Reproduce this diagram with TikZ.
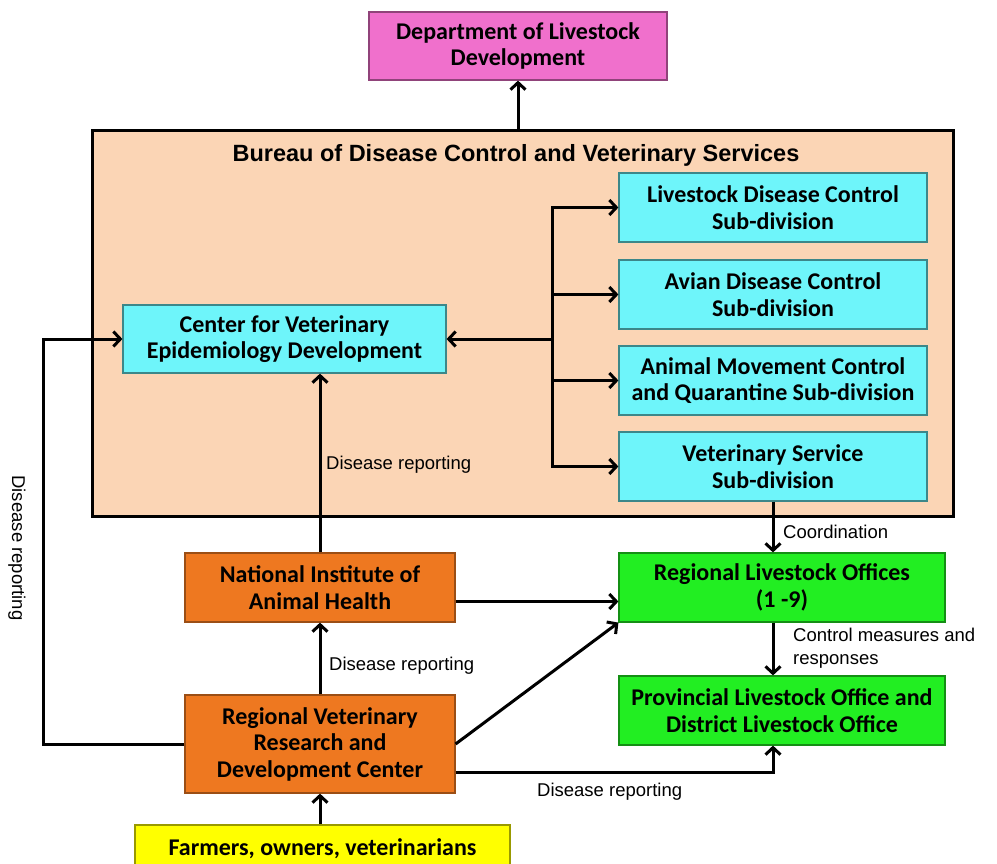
\documentclass[tikz,border=0pt]{standalone}
\usepackage{fontspec}
\setmainfont{Carlito}
\newfontfamily\labelfont{Liberation Sans}
\usetikzlibrary{arrows.meta,positioning}

\definecolor{DeptPink}{RGB}{240,112,204}
\definecolor{BureauPeach}{RGB}{251,213,181}
\definecolor{UnitCyan}{RGB}{110,245,250}
\definecolor{InstOrange}{RGB}{238,120,32}
\definecolor{OfficeGreen}{RGB}{34,238,34}
\definecolor{FarmYellow}{RGB}{255,255,0}

\begin{document}
\begin{tikzpicture}[x=1pt, y=-1pt]
		\tikzstyle{Box}		= [rectangle, line width=1.2pt, align=center, inner sep=2pt, font=\fontsize{24}{26.5}\selectfont\bfseries]
		\tikzstyle{Pink}	= [Box, fill=DeptPink, draw=DeptPink!60!black]
		\tikzstyle{Cyan}	= [Box, fill=UnitCyan, draw=UnitCyan!55!black]
		\tikzstyle{Orange}	= [Box, fill=InstOrange, draw=InstOrange!65!black]
		\tikzstyle{Green}	= [Box, fill=OfficeGreen, draw=OfficeGreen!60!black]
		\tikzstyle{Yellow}	= [Box, fill=FarmYellow, draw=FarmYellow!60!black]
		\tikzstyle{Sub}		= [Cyan, minimum width=308, minimum height=69]
		\tikzstyle{Label}	= [inner sep=1pt, font=\labelfont\fontsize{18.5}{23}\selectfont]
		\tikzstyle{Link}	= [line width=3pt, -{Straight Barb[length=7pt, width=15pt]}]

		\useasboundingbox (0,0) rectangle (997,863);

		% bureau frame
		\node (bureau) at (522.5,323) [rectangle, draw, line width=3pt, fill=BureauPeach, minimum width=861, minimum height=386] {};
		\node (title) at (516,155) [font=\labelfont\bfseries\fontsize{23.5}{26}\selectfont] {Bureau of Disease Control and Veterinary Services};

		\node (dld) at (518,46) [Pink, minimum width=298, minimum height=68] {Department of Livestock\\Development};
		\node (cved) at (284.5,339) [Cyan, minimum width=323, minimum height=68] {Center for Veterinary\\Epidemiology Development};

		\node (ldc) at (773,207.5) [Sub] {Livestock Disease Control\\Sub-division};
		\node (adc) at (773,294.5) [Sub] {Avian Disease Control\\Sub-division};
		\node (amc) at (773,380.5) [Sub] {Animal Movement Control\\and Quarantine Sub-division};
		\node (vs)  at (773,466.5) [Sub] {Veterinary Service\\Sub-division};

		\node (niah) at (320,587.5) [Orange, minimum width=270, minimum height=69] {National Institute of\\Animal Health};
		\node (rvrdc) at (320,744) [Orange, minimum width=270, minimum height=98] {Regional Veterinary\\Research and\\Development Center};
		\node (farm) at (322.5,849) [Yellow, minimum width=375, minimum height=48] {Farmers, owners, veterinarians};

		\node (rlo) at (782,587.5) [Green, minimum width=326, minimum height=69] {Regional Livestock Offices\\(1 -9)};
		\node (plo) at (782,710.5) [Green, minimum width=326, minimum height=69] {Provincial Livestock Office and\\District Livestock Office};

		\coordinate (branch) at (552,339);
		\coordinate (loop) at (43,744);

		% connectors
		\draw [Link] (bureau.north -| dld.south) to (dld.south);
		\draw [Link] (branch) to (cved.east);
		\foreach \s in {ldc,adc,amc,vs}
			\draw [Link] (branch) |- (\s.west);
		\draw [Link] (niah.north) to (niah.north |- cved.south);
		\draw [Link] (rvrdc.north) to (niah.south);
		\draw [Link] (rvrdc.south |- farm.north) to (rvrdc.south);
		\draw [Link] (rvrdc.west) -- (loop) |- (cved.west);
		\draw [Link] (vs.south) to (vs.south |- rlo.north);
		\draw [Link] ([yshift=-14pt]niah.east) to ([yshift=-14pt]niah.east -| rlo.west);
		\draw [Link] (rvrdc.east) to (rlo.south west);
		\draw [Link] (rlo.south -| vs.south) to (plo.north -| vs.south);
		\draw [Link] ([yshift=-28pt]rvrdc.east) -| (vs.south |- plo.south);

		% labels
		\node (lab1) at (325,465) [Label, anchor=west] {Disease reporting};
		\node (lab2) at (328,666) [Label, anchor=west] {Disease reporting};
		\node (lab3) at (17,548) [Label, rotate=-90] {Disease reporting};
		\node (lab4) at (536,792) [Label, anchor=west] {Disease reporting};
		\node (lab5) at (782,532) [Label, anchor=west] {Coordination};
		\node (lab6) at (792,627) [Label, anchor=north west, align=left] {Control measures and\\responses};
	\end{tikzpicture}
\end{document}
